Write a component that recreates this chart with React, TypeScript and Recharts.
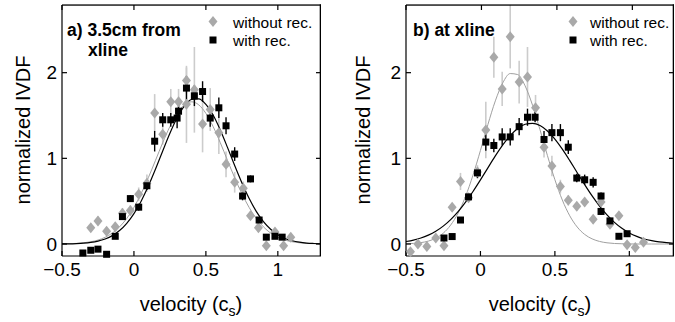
import React from 'react';
import { ComposedChart, Scatter, Line, XAxis, YAxis, ErrorBar } from 'recharts';

const FONT = '"Liberation Sans", Arial, Helvetica, sans-serif';

const xTicks = [-0.5, 0, 0.5, 1];
const yTicks = [0, 1, 2];

// ---- Panel a: 3.5cm from xline ----
const aWithX = [-0.355, -0.30, -0.25, -0.19, -0.13, -0.08, -0.025, 0.033, 0.09, 0.144, 0.20, 0.256, 0.30, 0.31, 0.365, 0.42, 0.477, 0.53, 0.59, 0.64, 0.70, 0.755, 0.81, 0.87, 0.92, 0.98, 1.03];
const aWithY = [-0.105, -0.073, -0.06, -0.12, 0.09, 0.32, 0.53, 0.43, 0.68, 1.20, 1.45, 1.45, 1.47, 1.55, 1.82, 1.73, 1.78, 1.47, 1.59, 1.38, 1.05, 0.56, 0.76, 0.28, 0.08, 0.09, 0.08];
const aWithErr = [0.02, 0.02, 0.02, 0.02, 0.03, 0.04, 0.04, 0.04, 0.05, 0.12, 0.08, 0.08, 0.12, 0.1, 0.14, 0.12, 0.12, 0.1, 0.12, 0.1, 0.08, 0.05, 0.04, 0.03, 0.02, 0.02, 0.02];

const aWithoutX = [-0.30, -0.25, -0.19, -0.13, -0.08, -0.025, 0.033, 0.09, 0.144, 0.20, 0.256, 0.31, 0.365, 0.365, 0.42, 0.477, 0.53, 0.59, 0.64, 0.70, 0.76, 0.81, 0.865, 0.92, 0.98, 1.04, 1.09];
const aWithoutY = [0.19, 0.27, 0.15, 0.20, 0.36, 0.39, 0.58, 0.71, 1.53, 1.28, 1.66, 1.66, 1.91, 1.63, 1.80, 1.40, 1.57, 1.30, 0.93, 0.72, 0.65, 0.33, 0.19, -0.02, 0.14, -0.02, 0.08];
const aWithoutErr = [0.05, 0.05, 0.05, 0.05, 0.06, 0.06, 0.08, 0.1, 0.22, 0.12, 0.15, 0.15, 0.15, 0.45, 0.5, 0.33, 0.25, 0.25, 0.15, 0.12, 0.08, 0.05, 0.05, 0.04, 0.04, 0.04, 0.04];

const curveX = [-0.5, -0.45, -0.4, -0.35, -0.3, -0.25, -0.2, -0.15, -0.1, -0.05, 0, 0.05, 0.1, 0.15, 0.2, 0.25, 0.3, 0.35, 0.4, 0.45, 0.5, 0.55, 0.6, 0.65, 0.7, 0.75, 0.8, 0.85, 0.9, 0.95, 1.0, 1.05, 1.1, 1.15, 1.2, 1.25, 1.3];
const aFitWith = [0.001, 0.002, 0.005, 0.010, 0.019, 0.034, 0.059, 0.098, 0.157, 0.241, 0.355, 0.500, 0.676, 0.875, 1.086, 1.292, 1.473, 1.610, 1.687, 1.694, 1.631, 1.505, 1.331, 1.128, 0.916, 0.714, 0.533, 0.381, 0.261, 0.172, 0.108, 0.065, 0.038, 0.021, 0.011, 0.006, 0.003];
const aFitWithout = [0.002, 0.004, 0.007, 0.014, 0.026, 0.046, 0.079, 0.128, 0.200, 0.298, 0.428, 0.588, 0.774, 0.977, 1.183, 1.372, 1.525, 1.625, 1.660, 1.625, 1.525, 1.372, 1.183, 0.977, 0.774, 0.588, 0.428, 0.298, 0.200, 0.128, 0.079, 0.046, 0.026, 0.014, 0.007, 0.004, 0.002];

// ---- Panel b: at xline ----
const bWithX = [-0.245, -0.19, -0.134, -0.08, -0.02, 0.036, 0.09, 0.146, 0.20, 0.26, 0.316, 0.367, 0.427, 0.48, 0.537, 0.59, 0.647, 0.70, 0.757, 0.81, 0.81, 0.87, 0.93, 0.985];
const bWithY = [0.07, 0.087, 0.28, 0.55, 0.83, 1.19, 1.15, 1.25, 1.25, 1.37, 1.48, 1.48, 1.22, 1.30, 1.30, 1.13, 0.77, 0.75, 0.72, 0.56, 0.38, 0.27, 0.09, 0.12];
const bWithErr = [0.03, 0.03, 0.03, 0.04, 0.06, 0.1, 0.08, 0.1, 0.1, 0.1, 0.1, 0.06, 0.1, 0.1, 0.1, 0.08, 0.05, 0.06, 0.06, 0.04, 0.04, 0.03, 0.03, 0.03];

const bWithoutX = [-0.47, -0.42, -0.36, -0.30, -0.245, -0.19, -0.134, -0.08, -0.02, 0.036, 0.09, 0.146, 0.20, 0.26, 0.316, 0.37, 0.427, 0.48, 0.537, 0.59, 0.647, 0.70, 0.757, 0.81, 0.87, 0.93, 0.985, 1.04, 1.095];
const bWithoutY = [-0.09, 0.0, -0.03, 0.07, -0.02, 0.43, 0.73, 0.54, 0.84, 1.33, 2.18, 1.81, 2.42, 1.89, 1.95, 1.59, 1.13, 0.91, 0.67, 0.51, 0.44, 0.49, 0.29, 0.49, 0.23, 0.33, -0.01, -0.04, 0.02];
const bWithoutErr = [0.03, 0.03, 0.03, 0.03, 0.03, 0.05, 0.1, 0.05, 0.08, 0.33, 0.24, 0.2, 0.37, 0.25, 0.35, 0.15, 0.12, 0.12, 0.08, 0.06, 0.05, 0.05, 0.05, 0.05, 0.05, 0.04, 0.03, 0.03, 0.03];

const bFitWith = [0.029, 0.046, 0.070, 0.104, 0.149, 0.209, 0.285, 0.378, 0.488, 0.613, 0.748, 0.889, 1.028, 1.157, 1.266, 1.349, 1.398, 1.409, 1.383, 1.319, 1.225, 1.107, 0.973, 0.832, 0.693, 0.561, 0.442, 0.339, 0.253, 0.183, 0.129, 0.089, 0.059, 0.039, 0.024, 0.015, 0.009];
const bFitWithout = [0.003, 0.007, 0.016, 0.034, 0.068, 0.126, 0.221, 0.361, 0.556, 0.804, 1.092, 1.394, 1.671, 1.881, 1.990, 1.978, 1.846, 1.619, 1.334, 1.032, 0.751, 0.513, 0.329, 0.198, 0.112, 0.060, 0.030, 0.014, 0.006, 0.003, 0.001, 0, 0, 0, 0, 0, 0];

const pts = (xs: number[], ys: number[], es?: number[]) =>
  xs.map((x, i) => ({ x, y: ys[i], e: es ? es[i] : 0 }));

const GREY = '#a9a9a9';
const GREY_ERR = '#cccccc';
const GREY_LINE = '#a0a0a0';

const Y_MIN = -0.14;
const Y_MAX = 2.79;
const CHART_H = 322;
const MARGIN_TOP = 5;
const X_AXIS_H = 66;

const Diamond = (p: any) => {
  const { cx, cy } = p;
  if (cx == null || cy == null) return <g />;
  return <path d={`M${cx},${cy - 5.5} L${cx + 4.5},${cy} L${cx},${cy + 5.5} L${cx - 4.5},${cy} Z`} fill={GREY} />;
};
const Square = (p: any) => {
  const { cx, cy } = p;
  if (cx == null || cy == null) return <g />;
  return <rect x={cx - 3.5} y={cy - 3.5} width={7} height={7} fill="#000" />;
};

const fmt = (v: number) => (v < 0 ? '\u2212' + Math.abs(v) : String(v));

type PanelProps = {
  width: number;
  yAxisWidth: number;
  rightMargin: number;
  xMax: number;
  withData: any[];
  withoutData: any[];
  fitWith: any[];
  fitWithout: any[];
};

const Panel = ({ width, yAxisWidth, rightMargin, xMax, withData, withoutData, fitWith, fitWithout }: PanelProps) => {
  const xDomain: [number, number] = [-0.5, xMax];
  const yDomain: [number, number] = [Y_MIN, Y_MAX];
  const tickStyle = { fill: '#000', fontSize: 19, fontFamily: FONT };
  return (
    <ComposedChart width={width} height={CHART_H} margin={{ top: MARGIN_TOP, right: rightMargin, bottom: 0, left: 0 }}>
      <XAxis type="number" dataKey="x" domain={xDomain} ticks={xTicks} interval={0}
        tickSize={-5} tickMargin={12} height={X_AXIS_H} stroke="#000" strokeWidth={1.2} tickLine={{ stroke: '#000', strokeWidth: 1.2 }} tick={tickStyle} tickFormatter={fmt} />
      <YAxis type="number" dataKey="y" domain={yDomain} ticks={yTicks} interval={0}
        tickSize={-5} tickMargin={10} width={yAxisWidth} stroke="#000" strokeWidth={1.2} tickLine={{ stroke: '#000', strokeWidth: 1.2 }} tick={tickStyle} tickFormatter={fmt} />
      <Scatter data={withoutData} shape={Diamond} isAnimationActive={false}>
        <ErrorBar dataKey="e" direction="y" width={0} stroke={GREY_ERR} strokeWidth={1.6} isAnimationActive={false} />
      </Scatter>
      <Line data={fitWithout} dataKey="y" type="monotone" stroke={GREY_LINE} strokeWidth={1} dot={false} isAnimationActive={false} />
      <Scatter data={withData} shape={Square} isAnimationActive={false}>
        <ErrorBar dataKey="e" direction="y" width={0} stroke="#000" strokeWidth={1.4} isAnimationActive={false} />
      </Scatter>
      <Line data={fitWith} dataKey="y" type="monotone" stroke="#000" strokeWidth={1.2} dot={false} isAnimationActive={false} />
    </ComposedChart>
  );
};

// MATLAB-style box: top and right borders with inward ticks
const Box = ({ offsetX, width, yAxisWidth, rightMargin, xMax }: { offsetX: number; width: number; yAxisWidth: number; rightMargin: number; xMax: number }) => {
  const left = offsetX + yAxisWidth;
  const right = offsetX + width - rightMargin;
  const top = MARGIN_TOP;
  const bottom = CHART_H - X_AXIS_H;
  const sx = (v: number) => left + ((v + 0.5) / (xMax + 0.5)) * (right - left);
  const sy = (v: number) => top + ((Y_MAX - v) / (Y_MAX - Y_MIN)) * (bottom - top);
  return (
    <g>
      <rect x={left} y={top - 0.6} width={right - left} height={1.3} fill="#000" />
      <rect x={right - 1.3} y={top - 0.6} width={1.3} height={bottom - top + 0.6} fill="#000" />
      {xTicks.map((v) => (
        <rect key={'tx' + v} x={sx(v) - 0.6} y={top} width={1.2} height={5} fill="#000" />
      ))}
      {yTicks.map((v) => (
        <rect key={'ty' + v} x={right - 5} y={sy(v) - 0.6} width={5} height={1.2} fill="#000" />
      ))}
    </g>
  );
};

const Legend2 = ({ dx, tx }: { dx: number; tx: number }) => (
  <g fontFamily={FONT} fontSize={15.5} fill="#000">
    <path d={`M${dx},${16} L${dx + 4.5},${21.5} L${dx},${27} L${dx - 4.5},${21.5} Z`} fill={GREY} />
    <text x={tx} y={27.5}>without rec.</text>
    <rect x={dx - 3.5} y={36.5} width={7} height={7} fill="#000" />
    <text x={tx} y={46}>with rec.</text>
  </g>
);

const XLabel = ({ cx }: { cx: number }) => (
  <text x={cx} y={311} textAnchor="middle" fontFamily={FONT} fontSize={20} fill="#000">
    velocity (c<tspan fontSize={14} dy={5}>s</tspan><tspan dy={-5}>)</tspan>
  </text>
);

const YLabel = ({ bx }: { bx: number }) => (
  <text transform={`translate(${bx},130) rotate(-90)`} textAnchor="middle" fontFamily={FONT} fontSize={20} fill="#000">
    normalized IVDF
  </text>
);

export default function App() {
  const aWith = pts(aWithX, aWithY, aWithErr);
  const aWithout = pts(aWithoutX, aWithoutY, aWithoutErr);
  const bWith = pts(bWithX, bWithY, bWithErr);
  const bWithout = pts(bWithoutX, bWithoutY, bWithoutErr);
  const aFW = pts(curveX, aFitWith);
  const aFWo = pts(curveX, aFitWithout);
  const bFW = pts(curveX, bFitWith);
  const bFWo = pts(curveX, bFitWithout);
  return (
    <div style={{ position: 'absolute', left: 0, top: 0, width: 675, height: 322, background: '#fff', overflow: 'hidden' }}>
      <div style={{ position: 'absolute', left: 0, top: 0 }}>
        <Panel width={340} yAxisWidth={62} rightMargin={19} xMax={1.3}
          withData={aWith} withoutData={aWithout} fitWith={aFW} fitWithout={aFWo} />
      </div>
      <div style={{ position: 'absolute', left: 340, top: 0 }}>
        <Panel width={335} yAxisWidth={66} rightMargin={1} xMax={1.276}
          withData={bWith} withoutData={bWithout} fitWith={bFW} fitWithout={bFWo} />
      </div>
      <svg width={675} height={322} style={{ position: 'absolute', left: 0, top: 0, pointerEvents: 'none', zIndex: 5 }}>
        <Box offsetX={0} width={340} yAxisWidth={62} rightMargin={19} xMax={1.3} />
        <Box offsetX={340} width={335} yAxisWidth={66} rightMargin={1} xMax={1.276} />
        <YLabel bx={30} />
        <YLabel bx={369.5} />
        <XLabel cx={191} />
        <XLabel cx={540} />
        <g fontFamily={FONT} fontSize={17.5} fontWeight="bold" fill="#000">
          <text x={67} y={36}>a) 3.5cm from</text>
          <text x={88} y={56}>xline</text>
          <text x={413} y={36}>b) at xline</text>
        </g>
        <Legend2 dx={213} tx={233} />
        <Legend2 dx={573} tx={590} />
      </svg>
    </div>
  );
}
